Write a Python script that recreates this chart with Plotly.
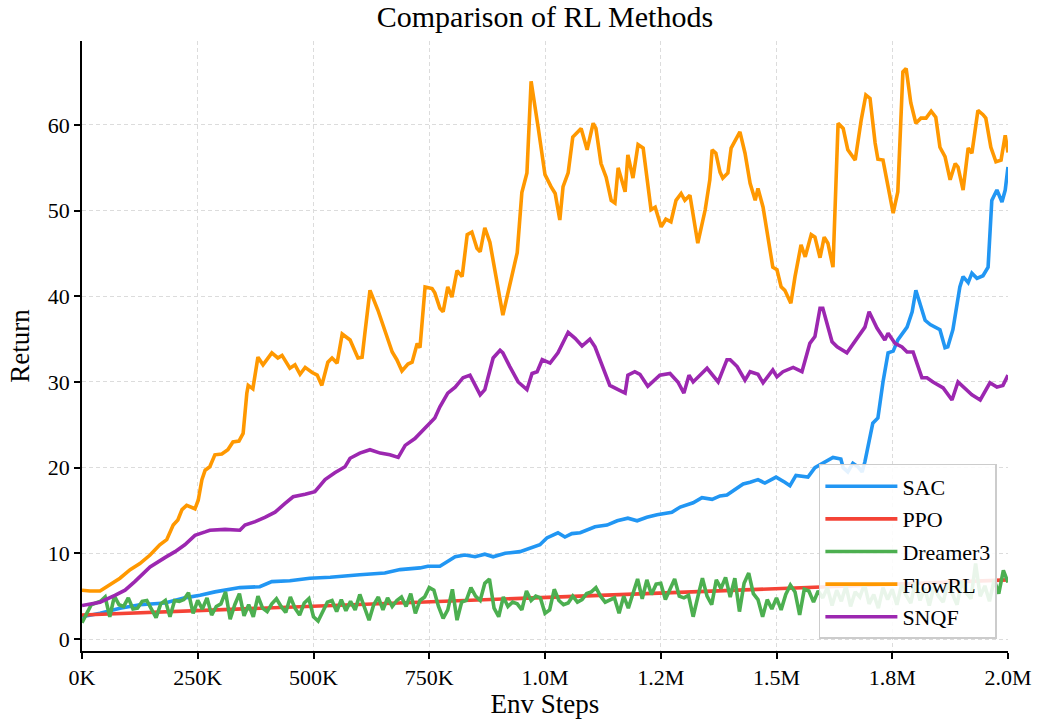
import numpy as np
import plotly.graph_objects as go

# ---- data (environment steps in thousands, returns) ----
flowrl_k = [
    0, 17, 39, 60, 82, 104, 125, 147, 168, 183,
    197, 207, 216, 226, 237, 244, 251, 259, 266, 276,
    287, 302, 315, 326, 339, 348, 356, 359, 369, 380,
    391, 410, 423, 432, 449, 460, 471, 482, 497, 508,
    518, 531, 540, 551, 562, 579, 596, 605, 611, 622,
    639, 670, 680, 691, 704, 713, 724, 730, 741, 756,
    762, 773, 780, 790, 799, 810, 821, 832, 842, 853,
    860, 870, 881, 909, 940, 950, 961, 970, 985, 1000,
    1013, 1022, 1032, 1039, 1050, 1060, 1078, 1091, 1104, 1110,
    1121, 1132, 1143, 1151, 1158, 1173, 1179, 1190, 1201, 1212,
    1229, 1238, 1251, 1261, 1272, 1283, 1294, 1302, 1313, 1330,
    1346, 1356, 1361, 1369, 1378, 1384, 1395, 1402, 1421, 1432,
    1443, 1454, 1460, 1471, 1492, 1501, 1510, 1518, 1531, 1540,
    1553, 1562, 1575, 1583, 1594, 1603, 1611, 1622, 1633, 1644,
    1654, 1670, 1683, 1693, 1702, 1713, 1719, 1730, 1741, 1752,
    1762, 1773, 1780, 1790, 1801, 1812, 1823, 1834, 1844, 1853,
    1864, 1875, 1886, 1892, 1903, 1914, 1922, 1935, 1946, 1952,
    1963, 1974, 1985, 1994, 2000,
]
flowrl = [
    5.7, 5.6, 5.6, 6.3, 7.1, 8.1, 8.8, 9.8, 11.0, 11.6,
    13.3, 13.9, 15.1, 15.6, 15.4, 15.2, 16.2, 18.6, 19.7, 20.1,
    21.5, 21.6, 22.1, 23.0, 23.1, 24.0, 28.7, 29.6, 29.2, 32.9,
    32.0, 33.4, 32.8, 33.1, 31.6, 32.0, 30.9, 31.7, 31.1, 30.8,
    29.6, 32.3, 32.8, 32.2, 35.6, 34.9, 32.8, 32.9, 35.7, 40.7,
    38.4, 33.5, 32.6, 31.3, 32.1, 32.3, 34.5, 34.0, 41.1, 40.9,
    40.4, 38.6, 38.2, 41.1, 39.9, 43.0, 42.3, 47.2, 47.5, 45.6,
    45.2, 48.0, 46.3, 37.8, 45.1, 52.1, 54.4, 65.1, 59.8, 54.2,
    52.8, 52.0, 48.9, 52.8, 54.4, 58.6, 59.6, 57.1, 60.2, 59.6,
    55.5, 53.9, 51.2, 50.9, 55.0, 52.2, 56.5, 53.8, 57.7, 57.3,
    50.1, 50.4, 48.1, 49.0, 48.7, 51.2, 52.0, 51.2, 51.8, 46.2,
    50.1, 53.6, 57.1, 56.7, 54.5, 53.8, 54.4, 57.3, 59.2, 56.7,
    53.2, 51.2, 52.6, 50.4, 43.4, 43.1, 41.1, 40.7, 39.2, 42.3,
    46.0, 44.6, 47.2, 46.9, 44.5, 46.9, 46.2, 43.4, 60.2, 59.6,
    57.1, 55.9, 60.6, 63.5, 63.1, 57.9, 56.0, 55.9, 52.8, 49.7,
    52.2, 66.2, 66.6, 62.6, 60.2, 60.8, 60.8, 61.6, 60.9, 57.4,
    56.3, 53.6, 55.5, 55.1, 52.4, 57.3, 56.7, 61.7, 61.2, 60.8,
    57.4, 55.7, 55.9, 58.8, 56.8,
]

snqf_k = [
    0, 39, 71, 93, 114, 147, 179, 201, 222, 244,
    266, 276, 309, 341, 352, 374, 395, 417, 438, 456,
    482, 503, 525, 546, 568, 579, 600, 622, 644, 665,
    683, 698, 719, 741, 762, 773, 790, 806, 823, 838,
    860, 870, 888, 903, 909, 924, 942, 961, 972, 983,
    994, 1011, 1028, 1050, 1065, 1080, 1097, 1108, 1140, 1158,
    1173, 1179, 1194, 1205, 1222, 1248, 1270, 1287, 1300, 1311,
    1320, 1350, 1374, 1393, 1400, 1415, 1432, 1443, 1460, 1471,
    1492, 1501, 1514, 1536, 1555, 1572, 1583, 1594, 1600, 1620,
    1631, 1652, 1691, 1700, 1717, 1734, 1741, 1756, 1771, 1782,
    1795, 1814, 1825, 1838, 1860, 1879, 1892, 1922, 1940, 1961,
    1976, 1989, 2000,
]
snqf = [
    3.9, 4.3, 5.1, 5.7, 6.7, 8.4, 9.5, 10.2, 11.0, 12.1,
    12.5, 12.7, 12.8, 12.7, 13.3, 13.7, 14.2, 14.8, 15.8, 16.6,
    16.9, 17.2, 18.6, 19.4, 20.1, 21.1, 21.7, 22.1, 21.7, 21.5,
    21.2, 22.6, 23.4, 24.6, 25.8, 27.1, 28.7, 29.4, 30.5, 30.8,
    28.5, 29.1, 32.8, 33.7, 33.4, 31.8, 30.0, 29.1, 31.0, 31.2,
    32.6, 32.2, 33.4, 35.8, 35.1, 34.2, 35.0, 34.1, 29.6, 29.1,
    28.7, 30.8, 31.2, 30.9, 29.5, 30.8, 31.0, 30.0, 28.7, 30.8,
    30.0, 31.6, 30.0, 32.6, 32.6, 31.8, 30.2, 31.2, 30.9, 29.9,
    31.4, 30.6, 31.2, 31.7, 31.2, 34.5, 35.3, 38.6, 38.6, 34.7,
    34.1, 33.4, 36.4, 38.2, 36.3, 34.9, 35.7, 34.5, 34.1, 33.5,
    33.5, 30.5, 30.5, 30.0, 29.3, 27.9, 30.0, 28.5, 27.9, 29.9,
    29.4, 29.6, 30.8,
]

sac_k = [
    0, 39, 82, 125, 179, 222, 255, 287, 341, 384,
    410, 449, 492, 536, 600, 654, 687, 730, 747, 773,
    806, 827, 849, 870, 888, 914, 946, 989, 1004, 1028,
    1043, 1058, 1076, 1108, 1134, 1156, 1179, 1199, 1220, 1242,
    1274, 1292, 1320, 1339, 1361, 1378, 1393, 1410, 1428, 1443,
    1460, 1475, 1499, 1518, 1529, 1542, 1568, 1583, 1622, 1639,
    1644, 1654, 1665, 1676, 1685, 1691, 1702, 1708, 1719, 1730,
    1741, 1752, 1762, 1782, 1793, 1801, 1821, 1832, 1853, 1864,
    1870, 1881, 1896, 1903, 1914, 1922, 1933, 1946, 1957, 1965,
    1976, 1987, 1994, 2000,
]
sac = [
    2.6, 3.0, 3.6, 4.0, 4.2, 4.8, 5.1, 5.5, 6.0, 6.1,
    6.7, 6.8, 7.1, 7.2, 7.5, 7.7, 8.1, 8.3, 8.5, 8.5,
    9.6, 9.8, 9.6, 9.9, 9.6, 10.0, 10.2, 11.0, 11.8, 12.4,
    11.9, 12.3, 12.4, 13.1, 13.3, 13.8, 14.1, 13.8, 14.2, 14.5,
    14.8, 15.4, 15.9, 16.5, 16.3, 16.7, 16.8, 17.4, 18.1, 18.3,
    18.6, 18.2, 18.9, 18.3, 17.9, 19.1, 18.9, 20.0, 21.2, 21.0,
    20.0, 19.5, 20.5, 20.1, 19.5, 20.7, 23.5, 25.2, 25.8, 30.0,
    33.4, 33.6, 34.9, 36.4, 38.2, 40.7, 37.2, 36.7, 36.1, 34.0,
    34.1, 36.1, 41.1, 42.3, 41.6, 42.7, 42.1, 42.4, 43.4, 51.2,
    52.4, 51.0, 52.4, 55.1,
]

ppo_k = [0, 500, 1000, 1500, 2000]
ppo = [2.8, 3.8, 4.9, 5.9, 6.9]

# Dreamer3 is logged every 10K steps
dreamer3 = [
    1.9, 3.0, 4.0, 4.2, 4.4, 4.9, 2.6, 5.0, 4.0, 3.8,
    4.8, 3.5, 3.6, 4.4, 4.5, 3.5, 2.5, 4.1, 4.5, 2.6,
    4.5, 4.4, 4.6, 5.4, 3.0, 4.5, 3.5, 4.8, 2.8, 3.8,
    4.1, 5.5, 2.3, 4.0, 5.3, 2.7, 4.0, 2.6, 5.0, 3.6,
    3.2, 4.1, 4.7, 3.8, 3.1, 4.9, 3.6, 2.8, 4.2, 4.7,
    2.6, 2.1, 3.3, 4.3, 4.5, 3.2, 4.6, 3.3, 4.4, 3.4,
    5.2, 3.8, 2.2, 4.0, 4.9, 3.4, 4.8, 3.8, 4.5, 4.9,
    3.8, 5.3, 3.0, 4.5, 4.9, 6.0, 5.7, 3.8, 2.4, 3.4,
    5.8, 2.2, 4.3, 4.5, 6.0, 5.0, 4.5, 6.5, 7.0, 3.6,
    2.6, 4.9, 3.8, 4.3, 4.1, 3.4, 5.6, 4.5, 5.0, 4.8,
    3.0, 3.4, 5.8, 4.5, 4.0, 4.2, 5.0, 4.3, 4.6, 5.3,
    5.5, 6.0, 5.0, 4.3, 4.6, 4.8, 3.0, 5.0, 3.6, 5.3,
    7.0, 4.7, 6.9, 5.2, 6.4, 6.5, 4.6, 5.8, 7.0, 5.0,
    4.8, 5.1, 2.6, 4.9, 7.1, 5.0, 4.0, 6.9, 5.9, 7.2,
    4.9, 7.1, 3.2, 6.5, 7.7, 5.3, 4.6, 2.6, 4.6, 3.5,
    4.8, 3.4, 5.2, 6.3, 5.5, 2.8, 5.8, 5.6, 4.3, 5.6,
    4.8, 6.0, 3.9, 5.7, 4.4, 6.2, 3.8, 5.5, 4.9, 6.4,
    4.1, 5.2, 3.6, 6.0, 4.6, 5.8, 4.0, 6.3, 5.1, 4.2,
    6.6, 4.5, 5.9, 3.9, 6.1, 5.0, 4.3, 6.5, 5.2, 4.0,
    6.8, 5.4, 4.7, 8.8, 5.0, 6.2, 4.4, 6.9, 5.3, 8.0,
    6.6,
]
dreamer3_k = [10 * i for i in range(len(dreamer3))]

x_tick_vals = [0, 250e3, 500e3, 750e3, 1.0e6, 1.25e6, 1.5e6, 1.75e6, 2.0e6]
x_tick_text = ["0K", "250K", "500K", "750K", "1.0M", "1.2M", "1.5M", "1.8M", "2.0M"]
y_tick_vals = [0, 10, 20, 30, 40, 50, 60]

series = [
    ("SAC", sac_k, sac, "#2196F3"),
    ("PPO", ppo_k, ppo, "#F44336"),
    ("Dreamer3", dreamer3_k, dreamer3, "#4CAF50"),
    ("FlowRL", flowrl_k, flowrl, "#FF9800"),
    ("SNQF", snqf_k, snqf, "#9C27B0"),
]

FONT = "Liberation Serif, Times New Roman, serif"

fig = go.Figure()
for name, ks, vals, color in series:
    assert len(ks) == len(vals), name
    fig.add_trace(go.Scatter(
        x=np.array(ks) * 1000.0, y=vals, mode="lines", name=name,
        legendgroup=name,
        line=dict(color=color, width=3.6),
    ))

fig.update_layout(
    width=1038, height=719,
    margin=dict(l=82, r=30, t=41, b=68, autoexpand=False),
    paper_bgcolor="white", plot_bgcolor="white",
    font=dict(family=FONT, color="black"),
    title=dict(text="Comparison of RL Methods", x=0.525, xanchor="center",
               y=0.977, yanchor="middle", yref="container",
               font=dict(size=30, family=FONT, color="black")),
    legend=dict(x=0.988, xanchor="right", y=0.0197, yanchor="bottom",
                bgcolor="rgba(255,255,255,0.88)", bordercolor="#cccccc",
                borderwidth=1.5, font=dict(size=22, family=FONT),
                tracegroupgap=1, itemwidth=72),
    showlegend=True,
)

axis_common = dict(
    showline=True, linecolor="black", linewidth=1.8,
    ticks="outside", ticklen=6, tickwidth=1.5, tickcolor="black",
    showgrid=True, gridcolor="#dcdcdc", gridwidth=1, griddash="4px,3px",
    zeroline=False, tickfont=dict(size=22, family=FONT, color="black"),
    mirror=False, automargin=False,
)
fig.update_xaxes(range=[0, 2.0e6], tickvals=x_tick_vals, ticktext=x_tick_text,
                 title=dict(text="Env Steps", font=dict(size=27, family=FONT), standoff=14),
                 **axis_common)
fig.update_yaxes(range=[-1.4, 69.8], tickvals=y_tick_vals,
                 title=dict(text="Return", font=dict(size=27, family=FONT), standoff=10),
                 **axis_common)

fig.write_html("out.html")
